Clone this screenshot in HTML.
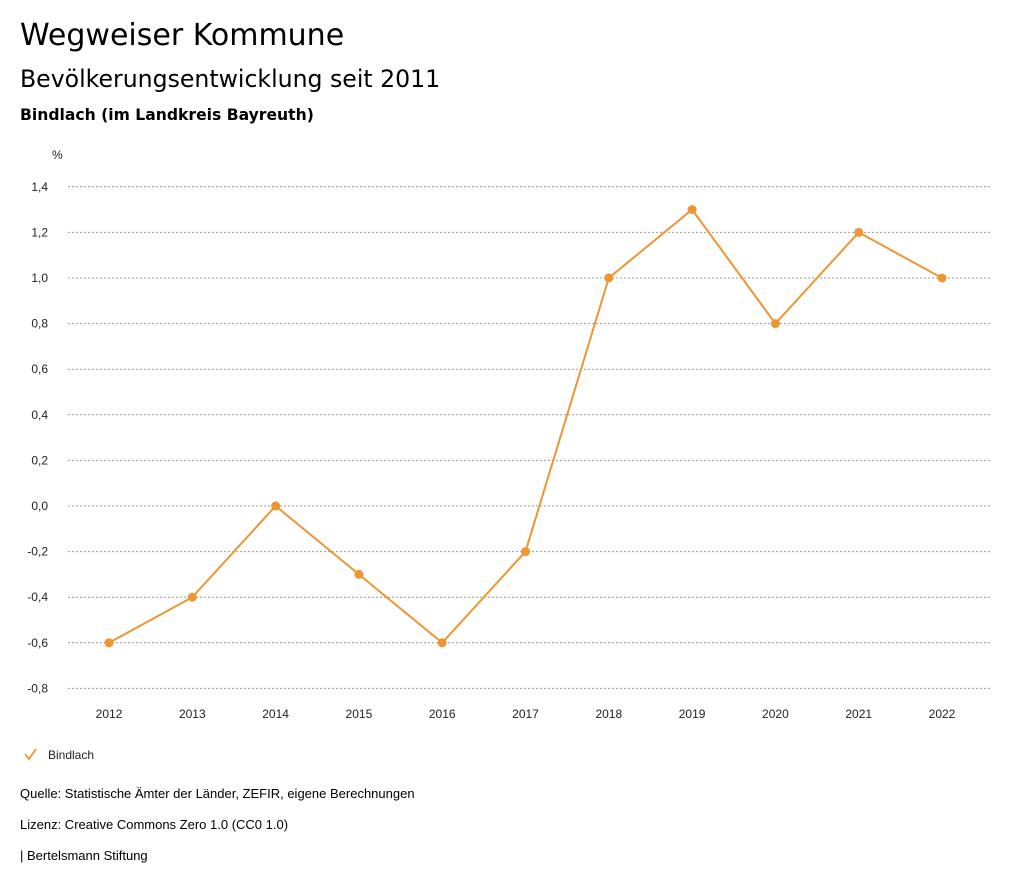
<!DOCTYPE html>
<html><head><meta charset="utf-8"><style>
body{margin:0;width:1024px;height:888px;background:#fff;font-family:"Liberation Sans",sans-serif;overflow:hidden;position:relative}
.t{position:absolute;left:20px;color:#000;white-space:nowrap}
.h{font-family:"DejaVu Sans",sans-serif}
</style></head><body>
<div class="t h" style="top:18px;font-size:30px">Wegweiser Kommune</div>
<div class="t h" style="top:65px;font-size:23.6px">Bevölkerungsentwicklung seit 2011</div>
<div class="t h" style="top:106px;font-size:15.6px;font-weight:bold">Bindlach (im Landkreis Bayreuth)</div>
<svg id="c" width="1024" height="888" style="position:absolute;left:0;top:0"></svg>
<div class="t" style="top:786px;font-size:13px">Quelle: Statistische Ämter der Länder, ZEFIR, eigene Berechnungen</div>
<div class="t" style="top:817px;font-size:13px">Lizenz: Creative Commons Zero 1.0 (CC0 1.0)</div>
<div class="t" style="top:848px;font-size:13px">| Bertelsmann Stiftung</div>
<script>
const years=["2012","2013","2014","2015","2016","2017","2018","2019","2020","2021","2022"];
const values=[-0.6,-0.4,0.0,-0.3,-0.6,-0.2,1.0,1.3,0.8,1.2,1.0];
const yTicks=[1.4,1.2,1.0,0.8,0.6,0.4,0.2,0.0,-0.2,-0.4,-0.6,-0.8];
const NS="http://www.w3.org/2000/svg",svg=document.getElementById('c');
const col="#ee9634";
const y=v=>506-v*228;
const x=i=>109+i*83.3;
function mk(t,a,txt){const e=document.createElementNS(NS,t);for(const k in a)e.setAttribute(k,a[k]);if(txt!=null)e.textContent=txt;svg.appendChild(e);return e;}
let e=mk('text',{x:52,y:159,'font-size':12,fill:'#222'},'%');


yTicks.forEach(v=>{
 let g=mk('line',{x1:68,x2:990,y1:y(v),y2:y(v),stroke:'#999','stroke-dasharray':'2,2','stroke-width':1});
 
 
 let l=mk('text',{x:48,y:y(v)+4,'font-size':12,'text-anchor':'end',fill:'#222'},v.toFixed(1).replace('.',','));
 
 
});
years.forEach((yr,i)=>{
 let l=mk('text',{x:x(i),y:718,'font-size':12,'text-anchor':'middle',fill:'#222'},yr);
 
 
});
let p=mk('polyline',{points:values.map((v,i)=>x(i)+','+y(v)).join(' '),fill:'none',stroke:col,'stroke-width':2});


values.forEach((v,i)=>{
 let c=mk('circle',{cx:x(i),cy:y(v),r:4.5,fill:col});
 
 
});
let ck=mk('polyline',{points:'25,754 29,759 36,749',fill:'none',stroke:col,'stroke-width':1.8});


let lt=mk('text',{x:48,y:759,'font-size':12,fill:'#222'},'Bindlach');


</script>
</body></html>
